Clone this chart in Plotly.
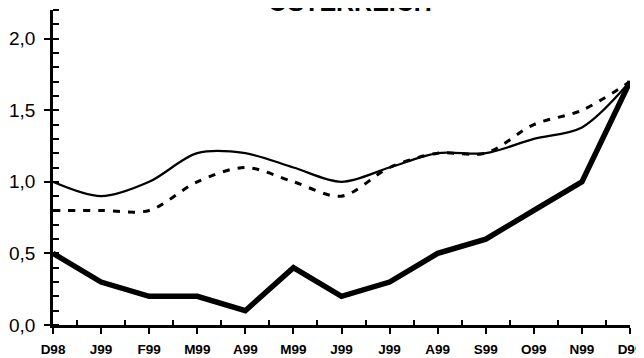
import plotly.graph_objects as go

months = ["D98", "J99", "F99", "M99", "A99", "M99", "J99", "J99", "A99", "S99", "O99", "N99", "D99"]
thin_solid = [1.0, 0.9, 1.0, 1.2, 1.2, 1.1, 1.0, 1.1, 1.2, 1.2, 1.3, 1.38, 1.7]
dashed = [0.8, 0.8, 0.8, 1.0, 1.1, 1.0, 0.9, 1.1, 1.2, 1.2, 1.4, 1.5, 1.7]
thick = [0.5, 0.3, 0.2, 0.2, 0.1, 0.4, 0.2, 0.3, 0.5, 0.6, 0.8, 1.0, 1.7]
title = "ÖSTERREICH"

xs = list(range(len(months)))

fig = go.Figure()
fig.add_trace(go.Scatter(x=xs, y=dashed, mode="lines",
                         line=dict(color="black", width=3, dash="7px,8px", shape="spline", smoothing=0.9),
                         showlegend=False, hoverinfo="skip"))
fig.add_trace(go.Scatter(x=xs, y=thin_solid, mode="lines",
                         line=dict(color="black", width=2.2, shape="spline", smoothing=0.9),
                         showlegend=False, hoverinfo="skip"))
fig.add_trace(go.Scatter(x=xs, y=thick, mode="lines",
                         line=dict(color="black", width=5.5),
                         showlegend=False, hoverinfo="skip"))
# invisible trace on the overlay axis that carries the half-month ticks
fig.add_trace(go.Scatter(x=[xs[0], xs[-1]], y=[None, None], xaxis="x2", mode="lines",
                         showlegend=False, hoverinfo="skip"))

fig.add_annotation(text="<b>" + title + "</b>", xref="paper", yref="paper",
                   x=0.515, y=1.026, xanchor="center", yanchor="middle", showarrow=False,
                   font=dict(family="Arial, Liberation Sans", size=25, color="black"))

fig.update_layout(
    width=644, height=358,
    margin=dict(l=45, r=22, t=2, b=41),
    paper_bgcolor="white", plot_bgcolor="white",
    separators=",.",
    font=dict(family="Arial, Liberation Sans", color="black"),
    xaxis=dict(
        range=[0, 12], tickvals=xs, ticktext=["<b>" + m + "</b>" for m in months],
        showgrid=False, zeroline=False, showline=True, linecolor="black", linewidth=2.5,
        ticks="outside", ticklen=6, tickwidth=2, tickcolor="black",
        tickfont=dict(size=13.5, family="Arial, Liberation Sans"),
        ticklabelstandoff=4, automargin=False, ticklabeloverflow="allow",
    ),
    xaxis2=dict(
        overlaying="x", anchor="y", side="bottom", range=[0, 12],
        tickmode="linear", tick0=0.5, dtick=1,
        ticks="inside", ticklen=5, tickwidth=2, tickcolor="black",
        showticklabels=False, showgrid=False, zeroline=False, showline=False,
        automargin=False,
    ),
    yaxis=dict(
        range=[0, 2.2], tickmode="linear", tick0=0, dtick=0.5, tickformat=".1f",
        showgrid=False, zeroline=False, showline=True, linecolor="black", linewidth=2.5,
        ticks="outside", ticklen=6, tickwidth=2, tickcolor="black",
        minor=dict(ticks="inside", tick0=0, dtick=0.1, ticklen=6, tickwidth=2, tickcolor="black", showgrid=False),
        tickfont=dict(size=19),
        ticklabelstandoff=5, automargin=False,
    ),
)

fig.write_html("out.html")
